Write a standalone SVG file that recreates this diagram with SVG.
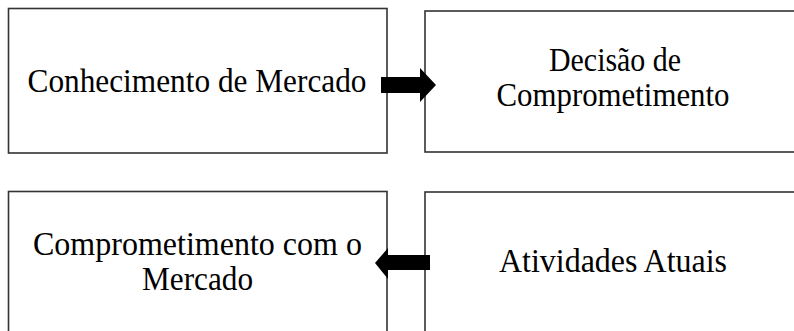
<svg xmlns="http://www.w3.org/2000/svg" width="794" height="331" viewBox="0 0 794 331">
<style>
.box{fill:#fff;stroke:#333;stroke-width:1.6}
.t{font-family:"Liberation Serif","Times New Roman",serif;font-size:33px;fill:#000;text-anchor:middle}
.arr{fill:#000}
</style>
<rect width="794" height="331" fill="#fff"/>
<g id="node-conhecimento">
<rect class="box" x="8.5" y="8.5" width="378.5" height="144.5"/>
<text class="t" x="197" y="92" textLength="339" lengthAdjust="spacingAndGlyphs">Conhecimento de Mercado</text>
</g>
<g id="node-decisao">
<rect class="box" x="425" y="11" width="400" height="141"/>
<text class="t" x="615" y="71" textLength="132" lengthAdjust="spacingAndGlyphs">Decisão de</text>
<text class="t" x="613" y="106" textLength="233" lengthAdjust="spacingAndGlyphs">Comprometimento</text>
</g>
<g id="node-comprometimento">
<rect class="box" x="8.5" y="191.5" width="378.5" height="200"/>
<text class="t" x="197.5" y="255" textLength="329" lengthAdjust="spacingAndGlyphs">Comprometimento com o</text>
<text class="t" x="197.5" y="290" textLength="111" lengthAdjust="spacingAndGlyphs">Mercado</text>
</g>
<g id="node-atividades">
<rect class="box" x="425" y="192" width="400" height="200"/>
<text class="t" x="613" y="272" textLength="228" lengthAdjust="spacingAndGlyphs">Atividades Atuais</text>
</g>
<g id="connectors">
<polygon class="arr" points="381,77 420,77 420,68 436,85 420,102 420,93 381,93"/>
<polygon class="arr" points="430,255 388,255 388,248 375,263 388,279 388,270 430,270"/>
</g>
</svg>
